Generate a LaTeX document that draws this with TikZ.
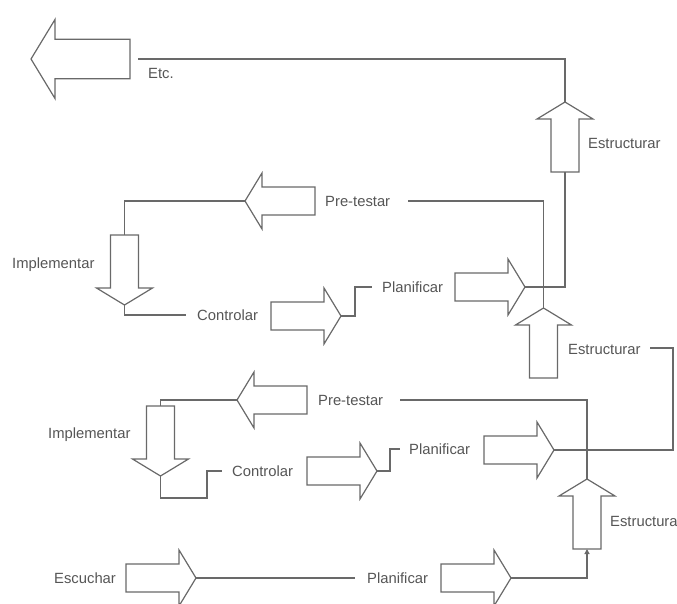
\documentclass[tikz,border=0pt]{standalone}
\usepackage{fontspec}
\setmainfont{Liberation Sans}
\usetikzlibrary{arrows.meta}
\definecolor{linegray}{RGB}{105,105,105}
\definecolor{textgray}{RGB}{85,85,85}
\tikzset{
  arrowline/.style={draw=linegray, line width=1.2pt, fill=white, line join=miter},
  conn/.style={draw=linegray, line width=1.2pt},
  lbl/.style={anchor=west, inner sep=0pt, text=textgray, font=\fontsize{14.8}{16}\selectfont},
  barrow/.pic={
    \path[arrowline] (0,0) -- (-17,28) -- (-17,14) -- (-70,14) -- (-70,-14) -- (-17,-14) -- (-17,-28) -- cycle;
    \coordinate (-tip) at (0,0);
    \coordinate (-tail) at (-70,0);
  }
}
\begin{document}
\begin{tikzpicture}[x=1pt, y=-1pt]
\useasboundingbox (0,0) rectangle (677,603);
\clip (0,0) rectangle (677,603);

% block arrows
\pic[rotate=180, scale=1.414] (etc) at (31,59) {barrow};
\pic[rotate=90] (estrA) at (565,102) {barrow};
\pic[rotate=180] (preA) at (245,201) {barrow};
\pic[rotate=-90] (implA) at (124.5,305) {barrow};
\pic (ctrlA) at (341,316) {barrow};
\pic (planA) at (525,287) {barrow};
\pic[rotate=90] (estrB) at (543.5,308) {barrow};
\pic[rotate=180] (preB) at (237,400) {barrow};
\pic[rotate=-90] (implB) at (160.5,476) {barrow};
\pic (ctrlB) at (377,471) {barrow};
\pic (planB) at (554,450) {barrow};
\pic[rotate=90] (estrC) at (587,479) {barrow};
\pic (escu) at (196,578) {barrow};
\pic (planC) at (511,578) {barrow};

% labels
\node[lbl] (tEtc) at (148,73) {Etc.};
\node[lbl] (tEstrA) at (588,143) {Estructurar};
\node[lbl] (tPreA) at (325,201) {Pre-testar};
\node[lbl] (tImplA) at (12,265) {Implementar};
\node[lbl] (tCtrlA) at (197,315) {Controlar};
\node[lbl] (tPlanA) at (382,287) {Planificar};
\node[lbl] (tEstrB) at (568,349) {Estructurar};
\node[lbl] (tPreB) at (318,400) {Pre-testar};
\node[lbl] (tImplB) at (48,435) {Implementar};
\node[lbl] (tCtrlB) at (232,471) {Controlar};
\node[lbl] (tPlanB) at (409,449) {Planificar};
\node[lbl] (tEstrC) at (610,521) {Estructura};
\node[lbl] (tEscu) at (54,578) {Escuchar};
\node[lbl] (tPlanC) at (367,578) {Planificar};

% free ends
\coordinate (eEtc) at (138,59);
\coordinate (ePreA) at (408,201);
\coordinate (eCtrlA) at (186,315);
\coordinate (ePlanA) at (372,287);
\coordinate (eEstrB) at (650,348);
\coordinate (ePreB) at (400,400);
\coordinate (eCtrlB) at (222,471);
\coordinate (ePlanB) at (400,449);
\coordinate (ePlanC) at (355,578);

% connectors
\draw[conn] (estrA-tip) |- (eEtc);
\draw[conn] (planA-tip) -| (estrA-tail);
\draw[conn] (ePreA) -| (estrB-tip);
\draw[conn] (preA-tip) -| (implA-tail);
\draw[conn] (implA-tip) |- (eCtrlA);
\draw[conn] (ctrlA-tip) -- ++(14,0) |- (ePlanA);
\draw[conn] (eEstrB) -| (673,450) -- (planB-tip);
\draw[conn] (ePreB) -| (estrC-tip);
\draw[conn] (preB-tip) -| (implB-tail);
\draw[conn] (implB-tip) |- (207,498) |- (eCtrlB);
\draw[conn] (ctrlB-tip) -- ++(13,0) |- (ePlanB);
\draw[conn, -{Triangle[length=5pt, width=5pt]}] (planC-tip) -| (estrC-tail);
\draw[conn] (escu-tip) -- (ePlanC);
\end{tikzpicture}
\end{document}
